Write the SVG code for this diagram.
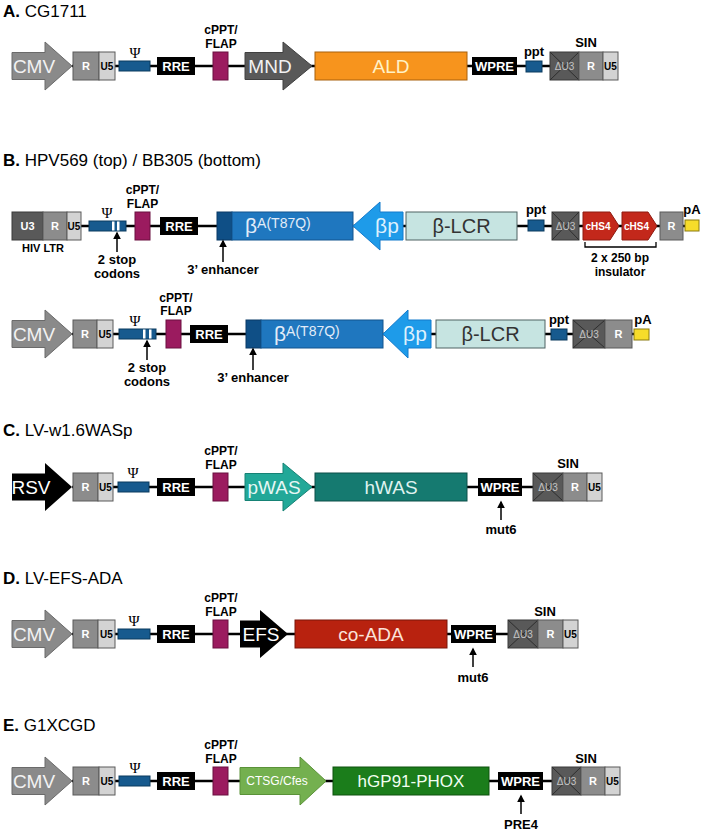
<svg xmlns="http://www.w3.org/2000/svg" width="708" height="834" viewBox="0 0 708 834">
<defs>
<style>
text{font-family:"Liberation Sans",Arial,sans-serif}
.title{font-size:17px;fill:#000}
.title tspan.b{font-weight:bold}
.lbl{font-size:13px;font-weight:bold;text-anchor:middle;fill:#000}
.fl{font-size:12px;font-weight:bold;text-anchor:middle;fill:#000}
.big{font-size:19px;text-anchor:middle;fill:#f2f2f2}
.wb{font-size:11px;font-weight:bold;text-anchor:middle;fill:#fff}
.kb{font-size:10px;font-weight:bold;text-anchor:middle;fill:#000}
.du3{font-size:10px;text-anchor:middle;fill:#c4c4c4}
.bx{font-size:13px;font-weight:bold;text-anchor:middle;fill:#fff}
.psi{font-family:"Liberation Serif","DejaVu Serif",serif;font-size:15px;text-anchor:middle;fill:#000}
.bb{stroke:#000;stroke-width:2.5;fill:none}
.gR{fill:#8c8c8c;stroke:#5a5a5a;stroke-width:1}
.gU5{fill:#d3d3d3;stroke:#5a5a5a;stroke-width:1}
.gU3{fill:#595959;stroke:#3a3a3a;stroke-width:1}
.x{stroke:#2e2e2e;stroke-width:1}
.blk{fill:#000}
.pbox{fill:#175a8e;stroke:#0b3a5e;stroke-width:1}
.flap{fill:#9b1b5f;stroke:#6b1040;stroke-width:1}
.cmv{fill:#8a8a8a;stroke:#6a6a6a;stroke-width:1}
.ann{stroke:#000;stroke-width:1.5;fill:none;marker-end:url(#ah)}
</style>
<marker id="ah" viewBox="0 0 10 10" refX="8" refY="5" markerUnits="userSpaceOnUse" markerWidth="8" markerHeight="8" orient="auto">
<path d="M0,0 L10,5 L0,10 z" fill="#000"/>
</marker>
</defs>
<rect width="708" height="834" fill="#fff"/>

<!-- ================= A ================= -->
<g id="secA">
<text class="title" x="3" y="17"><tspan class="b">A.</tspan> CG1711</text>
<line class="bb" x1="72" y1="66" x2="550" y2="66"/>
<g id="A-CMV"><polygon class="cmv" points="12,52.5 45,52.5 45,42 72,66 45,90 45,79.5 12,79.5"/><text class="big" x="34" y="73">CMV</text></g>
<g id="A-R"><rect class="gR" x="73" y="52" width="26" height="28"/><text class="wb" x="86" y="70">R</text></g>
<g id="A-U5"><rect class="gU5" x="99" y="52" width="16" height="28"/><text class="kb" x="107" y="70">U5</text></g>
<g id="A-psi"><rect class="pbox" x="119" y="61" width="31" height="10"/><text class="psi" x="135" y="58">Ψ</text></g>
<g id="A-RRE"><rect class="blk" x="157" y="57" width="38" height="18"/><text class="bx" x="176" y="71">RRE</text></g>
<g id="A-FLAP"><rect class="flap" x="213" y="52" width="15" height="28"/><text class="fl" x="221" y="34">cPPT/</text><text class="fl" x="221" y="47.5">FLAP</text></g>
<g id="A-MND"><polygon points="245,52.5 283,52.5 283,42 312,66 283,90 283,79.5 245,79.5" fill="#595959" stroke="#404040"/><text class="big" x="270" y="73">MND</text></g>
<g id="A-ALD"><rect x="315" y="52" width="152" height="28" fill="#f7941d" stroke="#a8600c"/><text class="big" x="391" y="73" style="fill:#fff2c6">ALD</text></g>
<g id="A-WPRE"><rect class="blk" x="472" y="57" width="45" height="18"/><text class="bx" x="494.5" y="71">WPRE</text></g>
<g id="A-ppt"><rect class="pbox" x="526" y="61" width="16" height="11"/><text class="lbl" x="534" y="56">ppt</text></g>
<g id="A-dU3"><rect class="gU3" x="550" y="52" width="29" height="28"/><line class="x" x1="550" y1="52" x2="579" y2="80"/><line class="x" x1="579" y1="52" x2="550" y2="80"/><text class="du3" x="564.5" y="70">ΔU3</text></g>
<g id="A-R2"><rect class="gR" x="579" y="52" width="24" height="28"/><text class="wb" x="591" y="70">R</text></g>
<g id="A-U52"><rect class="gU5" x="603" y="52" width="15" height="28"/><text class="kb" x="610.5" y="70">U5</text></g>
<text class="lbl" x="586" y="47">SIN</text>
</g>

<!-- ================= B top ================= -->
<g id="secB">
<text class="title" x="3" y="166"><tspan class="b">B.</tspan> HPV569 (top) / BB305 (bottom)</text>
<line class="bb" x1="81" y1="226" x2="685" y2="226"/>
<g id="B1-U3"><rect class="gU3" x="12" y="212" width="31" height="28"/><text class="wb" x="27.5" y="230">U3</text></g>
<g id="B1-R"><rect class="gR" x="43" y="212" width="24" height="28"/><text class="wb" x="55" y="230">R</text></g>
<g id="B1-U5"><rect class="gU5" x="67" y="212" width="14" height="28"/><text class="kb" x="74" y="230">U5</text></g>
<text class="wb" x="43" y="252" style="fill:#000">HIV LTR</text>
<g id="B1-psi"><rect class="pbox" x="89" y="221" width="37" height="10"/><rect x="112" y="221.5" width="2.5" height="9" fill="#fff"/><rect x="117" y="221.5" width="2.5" height="9" fill="#fff"/><text class="psi" x="107" y="218">Ψ</text></g>
<g id="B1-FLAP"><rect class="flap" x="135" y="212" width="15" height="28"/><text class="fl" x="142.5" y="194">cPPT/</text><text class="fl" x="142.5" y="207.5">FLAP</text></g>
<g id="B1-RRE"><rect class="blk" x="160" y="217" width="38" height="18"/><text class="bx" x="179" y="231">RRE</text></g>
<g id="B1-beta"><rect x="217" y="212" width="15" height="28" fill="#0f4f86" stroke="#0a3a66"/><rect x="232" y="212" width="121" height="28" fill="#1f77bf" stroke="#12558e"/><text x="245" y="233" fill="#e2ecf8"><tspan font-size="21">β</tspan><tspan font-size="14" dy="-5">A(T87Q)</tspan></text></g>
<g id="B1-bp"><polygon points="353,226 380,202 380,212 403,212 403,240 380,240 380,250" fill="#1e9be9" stroke="#137acc"/><text class="big" x="387" y="233" style="fill:#dcf0fd;font-size:21px">βp</text></g>
<g id="B1-LCR"><rect x="406" y="212" width="111" height="28" fill="#c6e4e1" stroke="#4e6363"/><text class="big" x="461.5" y="233" style="fill:#333;font-size:20px">β-LCR</text></g>
<g id="B1-ppt"><rect class="pbox" x="528" y="220" width="16" height="11"/><text class="lbl" x="536" y="214">ppt</text></g>
<g id="B1-dU3"><rect class="gU3" x="552" y="212" width="27" height="28"/><line class="x" x1="552" y1="212" x2="579" y2="240"/><line class="x" x1="579" y1="212" x2="552" y2="240"/><text class="du3" x="565.5" y="230">ΔU3</text></g>
<g id="B1-cHS4a"><polygon points="583,212 610,212 619,226 610,240 583,240" fill="#c3281b" stroke="#8e1a10"/><text class="wb" x="598" y="230" style="font-size:10px">cHS4</text></g>
<g id="B1-cHS4b"><polygon points="622,212 648,212 657,226 648,240 622,240" fill="#c3281b" stroke="#8e1a10"/><text class="wb" x="636.5" y="230" style="font-size:10px">cHS4</text></g>
<g id="B1-R2"><rect class="gR" x="660" y="212" width="23" height="28"/><text class="wb" x="671.5" y="230">R</text></g>
<g id="B1-pA"><rect x="685" y="220" width="14" height="11" fill="#f6dc2a" stroke="#8a7a10"/><text class="lbl" x="692" y="214">pA</text></g>
<path d="M585,242 V247 H656 V242" fill="none" stroke="#000" stroke-width="1.3"/>
<text class="fl" x="620" y="262">2 x 250 bp</text>
<text class="fl" x="620" y="275.5">insulator</text>
<text class="lbl" x="117" y="264">2 stop</text>
<text class="lbl" x="117" y="278">codons</text>
<text class="lbl" x="223" y="274">3’ enhancer</text>

<!-- B bottom -->
<line class="bb" x1="72" y1="334" x2="634" y2="334"/>
<g id="B2-CMV"><polygon class="cmv" points="12,320.5 45,320.5 45,310 72,334 45,358 45,347.5 12,347.5"/><text class="big" x="34" y="341">CMV</text></g>
<g id="B2-R"><rect class="gR" x="73" y="320" width="24" height="28"/><text class="wb" x="85" y="338">R</text></g>
<g id="B2-U5"><rect class="gU5" x="97" y="320" width="16" height="28"/><text class="kb" x="105" y="338">U5</text></g>
<g id="B2-psi"><rect class="pbox" x="119" y="329" width="37" height="10"/><rect x="143" y="329.5" width="2.5" height="9" fill="#fff"/><rect x="149" y="329.5" width="2.5" height="9" fill="#fff"/><text class="psi" x="135" y="326">Ψ</text></g>
<g id="B2-FLAP"><rect class="flap" x="166" y="320" width="15" height="28"/><text class="fl" x="176" y="301.5">cPPT/</text><text class="fl" x="176" y="315">FLAP</text></g>
<g id="B2-RRE"><rect class="blk" x="190" y="325" width="38" height="18"/><text class="bx" x="209" y="339">RRE</text></g>
<g id="B2-beta"><rect x="246" y="320" width="15" height="28" fill="#0f4f86" stroke="#0a3a66"/><rect x="261" y="320" width="122" height="28" fill="#1f77bf" stroke="#12558e"/><text x="274" y="341" fill="#e2ecf8"><tspan font-size="21">β</tspan><tspan font-size="14" dy="-5">A(T87Q)</tspan></text></g>
<g id="B2-bp"><polygon points="383,334 408,310 408,320 431,320 431,348 408,348 408,358" fill="#1e9be9" stroke="#137acc"/><text class="big" x="415" y="341" style="fill:#dcf0fd;font-size:21px">βp</text></g>
<g id="B2-LCR"><rect x="436" y="320" width="109" height="28" fill="#c6e4e1" stroke="#4e6363"/><text class="big" x="490.5" y="341" style="fill:#333;font-size:20px">β-LCR</text></g>
<g id="B2-ppt"><rect class="pbox" x="551" y="329" width="16" height="11"/><text class="lbl" x="559" y="324">ppt</text></g>
<g id="B2-dU3"><rect class="gU3" x="573" y="320" width="32" height="28"/><line class="x" x1="573" y1="320" x2="605" y2="348"/><line class="x" x1="605" y1="320" x2="573" y2="348"/><text class="du3" x="589" y="338">ΔU3</text></g>
<g id="B2-R2"><rect class="gR" x="605" y="320" width="27" height="28"/><text class="wb" x="618.5" y="338">R</text></g>
<g id="B2-pA"><rect x="634" y="329" width="15" height="11" fill="#f6dc2a" stroke="#8a7a10"/><text class="lbl" x="643" y="324">pA</text></g>
<text class="lbl" x="147" y="372">2 stop</text>
<text class="lbl" x="147" y="386">codons</text>
<text class="lbl" x="253" y="382">3’ enhancer</text>
</g>

<!-- ================= C ================= -->
<g id="secC">
<text class="title" x="3" y="436"><tspan class="b">C.</tspan> LV-w1.6WASp</text>
<line class="bb" x1="72" y1="487" x2="533" y2="487"/>
<g id="C-RSV"><polygon points="12,473.5 45,473.5 45,463 72,487 45,511 45,500.5 12,500.5" fill="#000"/><text class="big" x="31" y="494" style="fill:#fff">RSV</text></g>
<g id="C-R"><rect class="gR" x="73" y="473" width="25" height="28"/><text class="wb" x="85.5" y="491">R</text></g>
<g id="C-U5"><rect class="gU5" x="98" y="473" width="15" height="28"/><text class="kb" x="105.5" y="491">U5</text></g>
<g id="C-psi"><rect class="pbox" x="118" y="482" width="31" height="10"/><text class="psi" x="133" y="478">Ψ</text></g>
<g id="C-RRE"><rect class="blk" x="157" y="478" width="38" height="18"/><text class="bx" x="176" y="492">RRE</text></g>
<g id="C-FLAP"><rect class="flap" x="213" y="473" width="15" height="28"/><text class="fl" x="221" y="455">cPPT/</text><text class="fl" x="221" y="468.5">FLAP</text></g>
<g id="C-pWAS"><polygon points="245,473.5 283,473.5 283,463 312,487 283,511 283,500.5 245,500.5" fill="#22a898" stroke="#168275"/><text class="big" x="274" y="494" style="fill:#e6f7f4">pWAS</text></g>
<g id="C-hWAS"><rect x="315" y="473" width="152" height="28" fill="#157a70" stroke="#0c4f48"/><text class="big" x="391" y="494" style="fill:#dff2ef">hWAS</text></g>
<g id="C-WPRE"><rect class="blk" x="478" y="478" width="44" height="18"/><text class="bx" x="500" y="492">WPRE</text></g>
<g id="C-dU3"><rect class="gU3" x="533" y="473" width="30" height="28"/><line class="x" x1="533" y1="473" x2="563" y2="501"/><line class="x" x1="563" y1="473" x2="533" y2="501"/><text class="du3" x="548" y="491">ΔU3</text></g>
<g id="C-R2"><rect class="gR" x="563" y="473" width="24" height="28"/><text class="wb" x="575" y="491">R</text></g>
<g id="C-U52"><rect class="gU5" x="587" y="473" width="15" height="28"/><text class="kb" x="594.5" y="491">U5</text></g>
<text class="lbl" x="568" y="468">SIN</text>
<text class="lbl" x="501" y="534">mut6</text>
</g>

<!-- ================= D ================= -->
<g id="secD">
<text class="title" x="3" y="584"><tspan class="b">D.</tspan> LV-EFS-ADA</text>
<line class="bb" x1="72" y1="634" x2="508" y2="634"/>
<g id="D-CMV"><polygon class="cmv" points="12,620.5 45,620.5 45,610 72,634 45,658 45,647.5 12,647.5"/><text class="big" x="34" y="641">CMV</text></g>
<g id="D-R"><rect class="gR" x="73" y="620" width="25" height="28"/><text class="wb" x="85.5" y="638">R</text></g>
<g id="D-U5"><rect class="gU5" x="98" y="620" width="17" height="28"/><text class="kb" x="106.5" y="638">U5</text></g>
<g id="D-psi"><rect class="pbox" x="118" y="629" width="32" height="10"/><text class="psi" x="134" y="626">Ψ</text></g>
<g id="D-RRE"><rect class="blk" x="157" y="625" width="38" height="18"/><text class="bx" x="176" y="639">RRE</text></g>
<g id="D-FLAP"><rect class="flap" x="213" y="620" width="15" height="28"/><text class="fl" x="221" y="602">cPPT/</text><text class="fl" x="221" y="615.5">FLAP</text></g>
<g id="D-EFS"><polygon points="240,620.5 260,620.5 260,610 288,634 260,658 260,647.5 240,647.5" fill="#000"/><text class="big" x="261" y="641" style="fill:#fff">EFS</text></g>
<g id="D-ADA"><rect x="295" y="620" width="152" height="28" fill="#b8220f" stroke="#7a160a"/><text class="big" x="371" y="641" style="fill:#fbe2da">co-ADA</text></g>
<g id="D-WPRE"><rect class="blk" x="451" y="625" width="45" height="18"/><text class="bx" x="473.5" y="639">WPRE</text></g>
<g id="D-dU3"><rect class="gU3" x="508" y="620" width="30" height="28"/><line class="x" x1="508" y1="620" x2="538" y2="648"/><line class="x" x1="538" y1="620" x2="508" y2="648"/><text class="du3" x="523" y="638">ΔU3</text></g>
<g id="D-R2"><rect class="gR" x="538" y="620" width="25" height="28"/><text class="wb" x="550.5" y="638">R</text></g>
<g id="D-U52"><rect class="gU5" x="563" y="620" width="15" height="28"/><text class="kb" x="570.5" y="638">U5</text></g>
<text class="lbl" x="545" y="616">SIN</text>
<text class="lbl" x="473" y="682">mut6</text>
</g>

<!-- ================= E ================= -->
<g id="secE">
<text class="title" x="3" y="731"><tspan class="b">E.</tspan> G1XCGD</text>
<line class="bb" x1="72" y1="781" x2="552" y2="781"/>
<g id="E-CMV"><polygon class="cmv" points="12,767.5 45,767.5 45,757 72,781 45,805 45,794.5 12,794.5"/><text class="big" x="34" y="788">CMV</text></g>
<g id="E-R"><rect class="gR" x="73" y="767" width="26" height="28"/><text class="wb" x="86" y="785">R</text></g>
<g id="E-U5"><rect class="gU5" x="99" y="767" width="16" height="28"/><text class="kb" x="107" y="785">U5</text></g>
<g id="E-psi"><rect class="pbox" x="119" y="776" width="31" height="10"/><text class="psi" x="135" y="773">Ψ</text></g>
<g id="E-RRE"><rect class="blk" x="157" y="772" width="38" height="18"/><text class="bx" x="176" y="786">RRE</text></g>
<g id="E-FLAP"><rect class="flap" x="213" y="767" width="15" height="28"/><text class="fl" x="221" y="749">cPPT/</text><text class="fl" x="221" y="762.5">FLAP</text></g>
<g id="E-CTSG"><polygon points="240,767.5 300,767.5 300,757 326,781 300,805 300,794.5 240,794.5" fill="#74b04f" stroke="#5a9238"/><text class="big" x="277" y="785" style="font-size:12px;fill:#fff">CTSG/Cfes</text></g>
<g id="E-GP91"><rect x="333" y="767" width="156" height="28" fill="#1b7d1b" stroke="#0f520f"/><text class="big" x="411" y="787" style="font-size:17px;fill:#f2fff2">hGP91-PHOX</text></g>
<g id="E-WPRE"><rect class="blk" x="498" y="772" width="45" height="18"/><text class="bx" x="520.5" y="786">WPRE</text></g>
<g id="E-dU3"><rect class="gU3" x="552" y="767" width="29" height="28"/><line class="x" x1="552" y1="767" x2="581" y2="795"/><line class="x" x1="581" y1="767" x2="552" y2="795"/><text class="du3" x="566.5" y="785">ΔU3</text></g>
<g id="E-R2"><rect class="gR" x="581" y="767" width="24" height="28"/><text class="wb" x="593" y="785">R</text></g>
<g id="E-U52"><rect class="gU5" x="605" y="767" width="15" height="28"/><text class="kb" x="612.5" y="785">U5</text></g>
<text class="lbl" x="586" y="763">SIN</text>
<text class="lbl" x="521" y="829">PRE4</text>
</g>

<!-- ================= annotation arrows ================= -->
<g id="connectors">
<line class="ann" x1="117" y1="252" x2="117" y2="233"/>
<line class="ann" x1="223" y1="262" x2="223" y2="241"/>
<line class="ann" x1="147" y1="360" x2="147" y2="341"/>
<line class="ann" x1="253" y1="370" x2="253" y2="349"/>
<line class="ann" x1="501" y1="520" x2="501" y2="502"/>
<line class="ann" x1="473" y1="667" x2="473" y2="649"/>
<line class="ann" x1="521" y1="814" x2="521" y2="796"/>
</g>
</svg>
